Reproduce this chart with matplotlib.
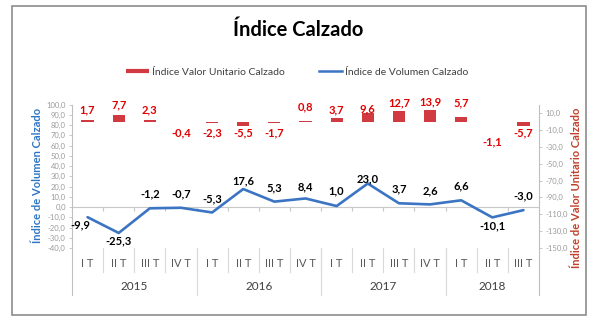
import numpy as np
import matplotlib
matplotlib.use("Agg")
import matplotlib.pyplot as plt
from matplotlib.lines import Line2D
from matplotlib.patches import Rectangle

plt.rcParams['font.family'] = ['Lato', 'DejaVu Sans']

# quarterly series
quarters = ['I T', 'II T', 'III T', 'IV T',
            'I T', 'II T', 'III T', 'IV T',
            'I T', 'II T', 'III T', 'IV T',
            'I T', 'II T', 'III T']
years = ['2015', '2016', '2017', '2018']
year_len = [4, 4, 4, 3]
volumen = [-9.9, -25.3, -1.2, -0.7, -5.3, 17.6, 5.3, 8.4,
           1.0, 23.0, 3.7, 2.6, 6.6, -10.1, -3.0]
valor = [1.7, 7.7, 2.3, -0.4, -2.3, -5.5, -1.7, 0.8,
         3.7, 9.6, 12.7, 13.9, 5.7, -1.1, -5.7]

# label offsets (pixels) from the end of each mark
val_dy = [10, 10, 10, -11, -9.5, -7, -10, 14, 8.6, 5, 8, 8, 14, -19, -6.5]
vol_off = [(-7, -8), (0, -8), (0, 14), (0, 14), (0, 14), (0, 8), (0, 14), (0, 12),
           (0, 15), (0, 5), (0, 14), (0, 14), (0, 14), (0, -8), (0, 14)]

blue = '#3B74C3'
red = '#D13A40'
lab_red = '#E00000'
grey = '#BFBFBF'

def fmt(v):
    return ('%.1f' % v).replace('.', ',')

fig = plt.figure(figsize=(6.03, 3.25), dpi=100)
W, H = 603.0, 325.0
ax = fig.add_axes([72 / W, 1 - 248 / H, 467 / W, 143.3 / H])
ax2 = ax.twinx()
ax.set_zorder(ax2.get_zorder() + 1)
ax.patch.set_visible(False)

x = np.arange(len(quarters))
px = 1 / 100 * 72  # pixels -> points

# bars on the secondary axis
ax2.bar(x, valor, width=0.39, color=red, zorder=2)
ax2.set_ylim(-150, 20)
ax2.set_yticks(np.arange(-150, 11, 20))
ax2.set_yticklabels([fmt(t) for t in np.arange(-150, 11, 20)])
for i, v in enumerate(valor):
    ax2.annotate(fmt(v), (x[i], v), xytext=(0, val_dy[i] * px), textcoords='offset points',
                 ha='center', va='center', color=lab_red, fontsize=8, fontweight='bold')

# line on the primary axis
ax.plot(x, volumen, color=blue, lw=1.9, solid_capstyle='round', zorder=3)
ax.set_ylim(-40, 100)
ax.set_xlim(-0.5, len(quarters) - 0.5)
ax.set_yticks(np.arange(-40, 101, 10))
ax.set_yticklabels([fmt(t) for t in np.arange(-40, 101, 10)])
for i, v in enumerate(volumen):
    dx, dy = vol_off[i]
    ax.annotate(fmt(v), (x[i], v), xytext=(dx * px, dy * px), textcoords='offset points',
                ha='center', va='center', color='black', fontsize=8, fontweight='bold')

for a in (ax, ax2):
    for s in a.spines.values():
        s.set_visible(False)
    a.tick_params(axis='y', labelsize=5.5, labelcolor='#9A9A9A', color=grey,
                  length=2.5, width=0.6, pad=2)
    a.set_xticks([])

ax.axhline(0, color='#C8C8C8', lw=0.8, zorder=1)
ax.vlines(x[:-1] + 0.5, -4, 0, color='#C8C8C8', lw=0.8)

# axis lines, extended through the category labels
for xa in (0, 1):
    ax.plot([xa, xa], [-0.328, 1.0], transform=ax.transAxes, color=grey, lw=0.8, clip_on=False)

# two-level category axis
tr = ax.get_xaxis_transform()
starts = np.cumsum([0] + year_len)
for i, q in enumerate(quarters):
    ax.text(x[i], -0.105, q, transform=tr, ha='center', va='center',
            fontsize=8, color='#595959')
for b in x[:-1] + 0.5:
    ax.plot([b, b], [-0.167, 0], transform=tr, color='#D9D9D9', lw=0.8, clip_on=False)
for j, y in enumerate(years):
    mid = (starts[j] + starts[j + 1] - 1) / 2
    ax.text(mid, -0.272, y, transform=tr, ha='center', va='center',
            fontsize=8.5, color='#404040')
    if j > 0:
        b = starts[j] - 0.5
        ax.plot([b, b], [-0.328, 0], transform=tr, color='#D9D9D9', lw=0.8, clip_on=False)

# axis titles
fig.text(38 / W, 1 - 175 / H, 'Índice de Volumen Calzado', rotation=90, ha='center',
         va='center', color='#2E75C6', fontsize=8, fontweight='bold')
fig.text(577 / W, 1 - 188 / H, 'Índice de Valor Unitario Calzado', rotation=90, ha='center',
         va='center', color='#C0402A', fontsize=8, fontweight='bold')

fig.text(298 / W, 1 - 30 / H, 'Índice Calzado', ha='center', va='center',
         fontsize=14.5, fontweight='bold', color='black')

handles = [Line2D([], [], color=red, lw=3, solid_capstyle='butt'),
           Line2D([], [], color=blue, lw=1.8)]
fig.legend(handles, ['Índice Valor Unitario Calzado', 'Índice de Volumen Calzado'],
           loc='center', bbox_to_anchor=(297 / W, 1 - 72 / H), ncol=2, frameon=False,
           fontsize=7.5, handlelength=2.2, handletextpad=0.3, columnspacing=3.3,
           labelcolor='#404040')

fig.add_artist(Rectangle((11.5 / W, 10 / H), 574.2 / W, 309.5 / H, transform=fig.transFigure,
                         fill=False, edgecolor='#8C8C8C', lw=1.2))

plt.savefig('out.png', dpi=100)
